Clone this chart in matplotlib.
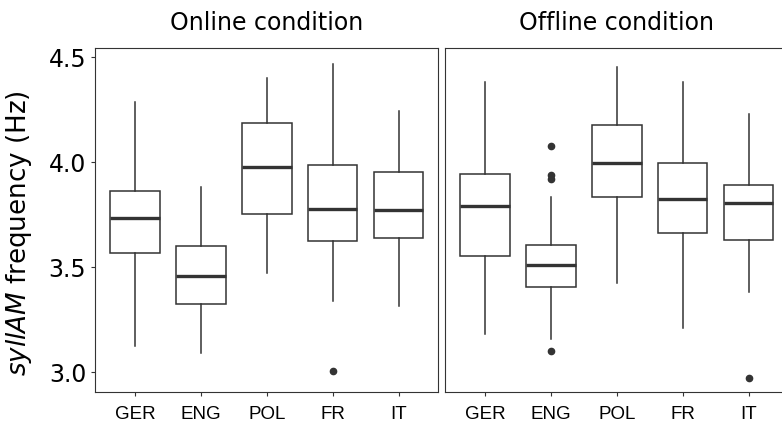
import matplotlib
matplotlib.use("Agg")
import matplotlib.pyplot as plt

plt.rcParams["font.family"] = "DejaVu Sans"

langs = ["GER", "ENG", "POL", "FR", "IT"]

# whisker low, Q1, median, Q3, whisker high
online_low = [3.125, 3.089, 3.470, 3.336, 3.312]
online_q1 = [3.566, 3.322, 3.751, 3.621, 3.635]
online_med = [3.730, 3.455, 3.975, 3.775, 3.768]
online_q3 = [3.862, 3.597, 4.184, 3.986, 3.952]
online_high = [4.282, 3.881, 4.398, 4.466, 4.241]
online_out = [[], [], [], [3.004], []]

offline_low = [3.180, 3.155, 3.421, 3.209, 3.380]
offline_q1 = [3.551, 3.402, 3.832, 3.661, 3.627]
offline_med = [3.788, 3.507, 3.995, 3.822, 3.803]
offline_q3 = [3.943, 3.604, 4.174, 3.995, 3.887]
offline_high = [4.377, 3.832, 4.450, 4.377, 4.225]
offline_out = [[], [4.076, 3.937, 3.918, 3.101], [], [], [2.973]]


def make_stats(low, q1, med, q3, high, out):
    stats = []
    for i in range(len(langs)):
        stats.append({"whislo": low[i], "q1": q1[i], "med": med[i], "q3": q3[i],
                      "whishi": high[i], "fliers": out[i], "label": langs[i]})
    return stats


fig = plt.figure(figsize=(7.82, 4.27), dpi=100)
W, H = 782, 427
ax1 = fig.add_axes([95.3 / W, 33.7 / H, 343 / W, 344 / H])
ax2 = fig.add_axes([445.3 / W, 33.7 / H, 343 / W, 344 / H])

panels = [
    (ax1, make_stats(online_low, online_q1, online_med, online_q3, online_high, online_out), "Online condition"),
    (ax2, make_stats(offline_low, offline_q1, offline_med, offline_q3, offline_high, offline_out), "Offline condition"),
]

edge = "#333333"
for ax, stats, title in panels:
    ax.bxp(stats, positions=range(1, 6), widths=0.75, showcaps=False, patch_artist=True,
           boxprops=dict(facecolor="white", edgecolor=edge, linewidth=1.1),
           whiskerprops=dict(color=edge, linewidth=1.1),
           medianprops=dict(color=edge, linewidth=2.4),
           flierprops=dict(marker="o", markerfacecolor=edge, markeredgecolor=edge, markersize=4.5))
    ax.set_xlim(0.4, 5.6)
    ax.set_ylim(2.903, 4.539)
    ax.set_yticks([3.0, 3.5, 4.0, 4.5])
    ax.set_xticks(range(1, 6))
    ax.set_xticklabels(langs, family="Liberation Sans", fontsize=13.5, color="black")
    ax.tick_params(axis="both", length=3, width=0.8, color=edge, direction="out")
    ax.tick_params(axis="x", pad=6)
    ax.tick_params(axis="y", labelsize=17, labelcolor="black")
    for sp in ax.spines.values():
        sp.set_color(edge)
        sp.set_linewidth(0.8)
    ax.set_title(title, fontsize=17, pad=14)

ax2.tick_params(axis="y", left=False, labelleft=False)
ax1.set_ylabel(r"$\it{syllAM}$ frequency (Hz)", fontsize=18.8)
ax1.yaxis.set_label_coords(-0.18, 0.465)

fig.savefig("out.png", dpi=100)
